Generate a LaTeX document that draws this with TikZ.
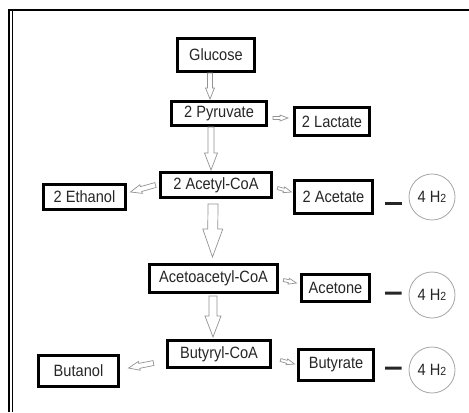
\documentclass[tikz,border=0pt]{standalone}
\usepackage{fontspec}
\setmainfont{Liberation Sans}
\usetikzlibrary{calc}
\tikzset{
  chem/.style={rectangle, draw=black, line width=3bp, fill=white, inner sep=0pt, text=black!85, font=\fontsize{14.6bp}{17bp}\selectfont},
  gasbubble/.style={circle, draw=gray!70, line width=0.8bp, minimum size=46bp, inner sep=0pt, text=black!85, font=\fontsize{14.6bp}{17bp}\selectfont},
  bond/.style={line width=3bp, black!85},
  hollowarrow/.style args={#1/#2/#3}{draw=gray!85, line width=0.7bp, fill=white, line join=miter,
    to path={let \p1=($(\tikztotarget)!#3!(\tikztostart)$) in
      ($(\tikztostart)!#1!90:(\tikztotarget)$) -- ($(\p1)!#1!90:(\tikztotarget)$)
      -- ($(\p1)!#2!90:(\tikztotarget)$) -- (\tikztotarget)
      -- ($(\p1)!#2!-90:(\tikztotarget)$) -- ($(\p1)!#1!-90:(\tikztotarget)$)
      -- ($(\tikztostart)!#1!-90:(\tikztotarget)$) -- cycle}}
}
\newcommand{\lbl}[1]{\scalebox{1}[1.12]{#1}}
\newcommand{\hyd}{\lbl{4 H{\fontsize{10.5bp}{12bp}\selectfont\raisebox{-0.5bp}{2}}}}

\begin{document}
\begin{tikzpicture}[x=1bp, y=-1bp]
  \useasboundingbox (0,0) rectangle (469,412);
  \fill[white] (0,0) rectangle (469,412);

  % marco
  \draw[line width=2bp] (9,412) -- (9,9.5) -- (469,9.5);
  \draw[line width=0.8bp] (12.5,11) -- (12.5,412);

  % compuestos
  \node[chem, minimum width=77bp, minimum height=33bp] (glu) at (216,55) {\lbl{Glucose}};
  \node[chem, minimum width=95bp, minimum height=24bp] (pyr) at (219,113.5) {\lbl{2 Pyruvate}};
  \node[chem, minimum width=75bp, minimum height=28bp] (lac) at (332,121.5) {\lbl{2 Lactate}};
  \node[chem, minimum width=111bp, minimum height=25bp] (acetyl) at (216,185) {\lbl{2 Acetyl-CoA}};
  \node[chem, minimum width=82bp, minimum height=25bp] (eth) at (84.5,197) {\lbl{2 Ethanol}};
  \node[chem, minimum width=78bp, minimum height=33bp] (acetate) at (333.5,197) {\lbl{2 Acetate}};
  \node[chem, minimum width=128bp, minimum height=28bp] (aceto) at (213.5,278.5) {\lbl{Acetoacetyl-CoA}};
  \node[chem, minimum width=68bp, minimum height=27bp] (acetone) at (335.5,288) {\lbl{Acetone}};
  \node[chem, minimum width=103bp, minimum height=27bp] (butyryl) at (219,354) {\lbl{Butyryl-CoA}};
  \node[chem, minimum width=80bp, minimum height=31bp] (butanol) at (78.5,371) {\lbl{Butanol}};
  \node[chem, minimum width=75bp, minimum height=31bp] (butyrate) at (336,365) {\lbl{Butyrate}};

  % hidrogeno
  \node[gasbubble] (h2a) at (432,197) {\hyd};
  \node[gasbubble] (h2b) at (432,295) {\hyd};
  \node[gasbubble] (h2c) at (432,370) {\hyd};

  % flechas verticales
  \draw[hollowarrow=2.5bp/4.5bp/11bp] ([xshift=-6bp]glu.south) to ([xshift=-9bp,yshift=1bp]pyr.north);
  \draw[hollowarrow=3bp/6.5bp/17bp] ([xshift=-8bp]pyr.south) to ([xshift=-5bp,yshift=1bp]acetyl.north);
  \draw[hollowarrow=5bp/10bp/28bp] ([xshift=-3bp,yshift=-5bp]acetyl.south) to ([xshift=-1bp,yshift=6bp]aceto.north);
  \draw[hollowarrow=4bp/8bp/21bp] ([xshift=-0.5bp,yshift=-2bp]aceto.south) to ([xshift=-6bp,yshift=2bp]butyryl.north);

  % flechas laterales
  \draw[hollowarrow=1.5bp/3bp/8bp] ([xshift=5bp,yshift=-4.5bp]pyr.east) to ([xshift=-5bp,yshift=3.5bp]lac.west);
  \draw[hollowarrow=2.5bp/4.5bp/11bp] ([xshift=-3.5bp]acetyl.west) to ([xshift=3.5bp,yshift=5bp]eth.east);
  \draw[hollowarrow=1.5bp/3bp/8bp] ([xshift=4.5bp,yshift=-3bp]acetyl.east) to ([xshift=-1.5bp,yshift=5bp]acetate.west);
  \draw[hollowarrow=1.5bp/3bp/8bp] ([xshift=4.5bp,yshift=-1.5bp]aceto.east) to ([xshift=-3.5bp,yshift=5bp]acetone.west);
  \draw[hollowarrow=2.5bp/4.5bp/11bp] ([xshift=-12.5bp,yshift=-9bp]butyryl.west) to ([xshift=8.5bp,yshift=3bp]butanol.east);
  \draw[hollowarrow=1.5bp/3bp/8bp] ([xshift=8.5bp,yshift=-6bp]butyryl.east) to ([xshift=-2.5bp,yshift=1bp]butyrate.west);

  % guiones hacia H2
  \draw[bond, shorten <=11bp, shorten >=7bp] ([yshift=-6bp]acetate.east) -- ([yshift=-6bp]h2a.west);
  \draw[bond, shorten <=14bp, shorten >=7bp] ([yshift=-5bp]acetone.east) -- ([yshift=2bp]h2b.west);
  \draw[bond, shorten <=10bp, shorten >=7bp] ([yshift=-3bp]butyrate.east) -- ([yshift=2bp]h2c.west);
\end{tikzpicture}
\end{document}
